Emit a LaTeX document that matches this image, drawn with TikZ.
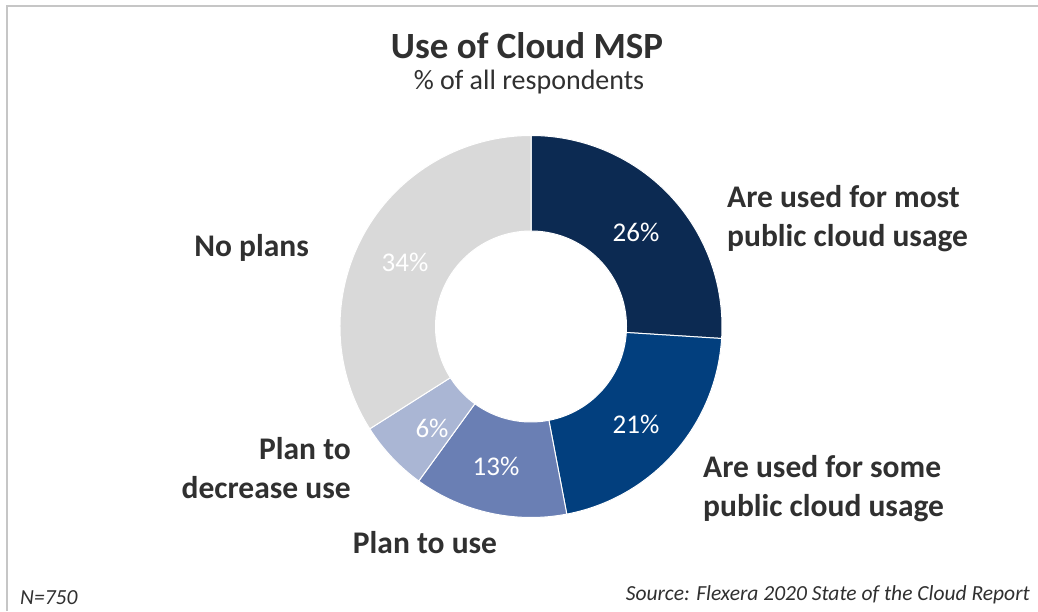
\documentclass[tikz,border=0pt]{standalone}
\usepackage{fontspec}
\setmainfont{Carlito}
\usetikzlibrary{calc}
\definecolor{txt}{HTML}{303030}
\definecolor{segA}{HTML}{0C2A52}
\definecolor{segB}{HTML}{023F7E}
\definecolor{segC}{HTML}{6A7FB4}
\definecolor{segD}{HTML}{AAB6D4}
\definecolor{segE}{HTML}{D9D9D9}
\definecolor{frame}{HTML}{C6C6C6}
\tikzset{
  lbl/.style={font=\fontsize{31.5}{39}\selectfont\bfseries, text=txt, inner sep=0pt},
  pct/.style={font=\fontsize{27}{32}\selectfont, text=white, inner sep=0pt},
  foot/.style={font=\fontsize{21.5}{26}\selectfont\itshape, text=txt, inner sep=0pt},
  seg/.style={draw=white, line width=1pt, line join=round}
}
\newcommand{\donutseg}[3]{%
  \fill[seg, fill=#3] ($(c)+(#1:191)$) arc[start angle=#1, end angle=#2, radius=191]
    -- ($(c)+(#2:95.5)$) arc[start angle=#2, end angle=#1, radius=95.5] -- cycle;}
\begin{document}
\begin{tikzpicture}[x=1pt,y=1pt]
\useasboundingbox (0,0) rectangle (1038,611);
\fill[white] (0,0) rectangle (1038,611);
\draw[frame, line width=2.2pt] (7,0) -- (7,605) -- (1038,605);
\coordinate (c) at (531,284.5);
\donutseg{90}{-3.6}{segA}
\donutseg{-3.6}{-79.2}{segB}
\donutseg{-79.2}{-126}{segC}
\donutseg{-126}{-147.6}{segD}
\donutseg{-147.6}{-270}{segE}
\node[font=\fontsize{37}{44}\selectfont\bfseries, text=txt, inner sep=0pt] (title) at (527,565) {Use of Cloud MSP};
\node[font=\fontsize{28}{34}\selectfont, text=txt, inner sep=0pt] (sub) at (529,529) {\% of all respondents};
\node[pct] (p26) at (636,379) {26\%};
\node[pct] (p21) at (636,187) {21\%};
\node[pct] (p13) at (496,145) {13\%};
\node[pct] (p6) at (432,183) {6\%};
\node[pct] (p34) at (405,349) {34\%};
\node[lbl, anchor=west, align=left] (most) at (727,392.5) {Are used for most\\public cloud usage};
\node[lbl, anchor=west, align=left] (some) at (703,122) {Are used for some\\public cloud usage};
\node[lbl, anchor=east] (noplans) at (309,363) {No plans};
\node[lbl, anchor=east, align=right] (decr) at (351,143) {Plan to\\decrease use};
\node[lbl] (use) at (425,68) {Plan to use};
\node[foot, anchor=west] (n) at (20,13) {N=750};
\node[foot, anchor=east] (src) at (1030,16) {Source: Flexera 2020 State of the Cloud Report};
\end{tikzpicture}
\end{document}
